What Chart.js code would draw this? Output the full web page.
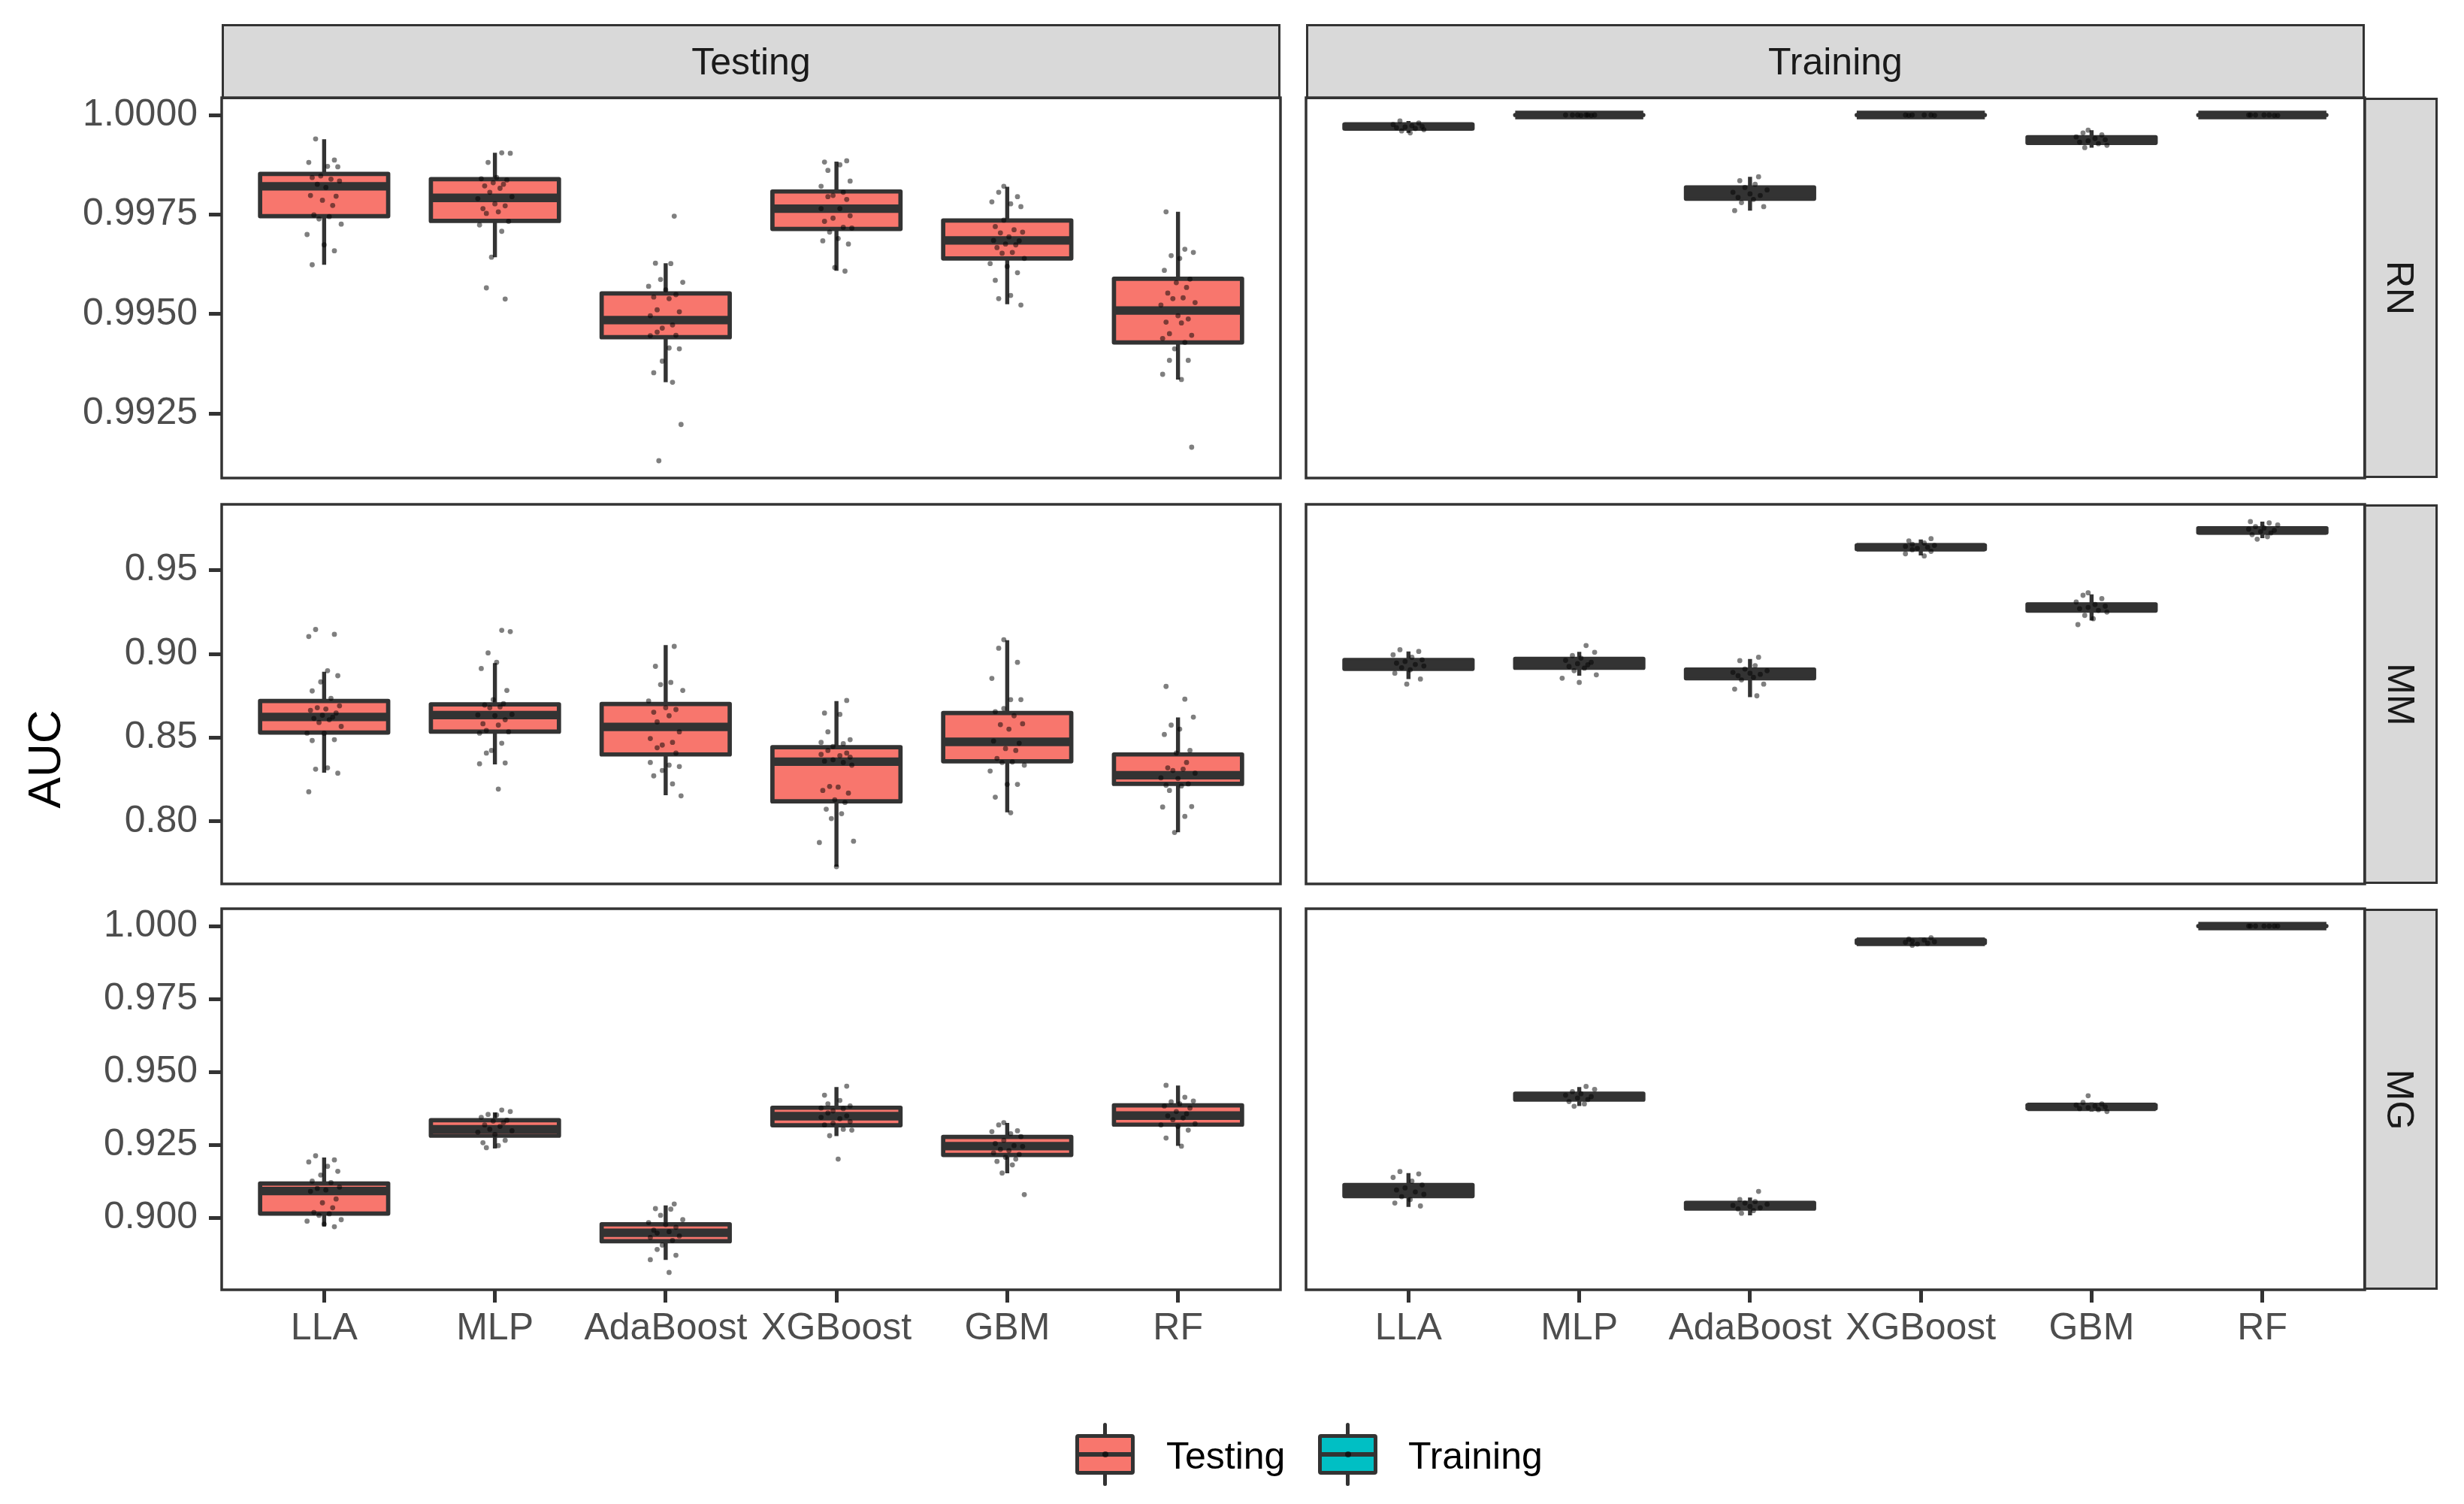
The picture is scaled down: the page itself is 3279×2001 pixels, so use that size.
<!DOCTYPE html>
<html>
<head>
<meta charset="utf-8">
<title>AUC by model</title>
<script src="https://cdn.jsdelivr.net/npm/chart.js@4.4.1/dist/chart.umd.min.js"></script>
<style>
  body { margin: 0; background: #fff; }
  #page { position: relative; width: 3279px; height: 2001px; overflow: hidden; font-family: 'Liberation Sans', Arial, sans-serif; }
  canvas { position: absolute; }
  .strip { position: absolute; box-sizing: border-box; background: #d9d9d9; border: 3.5px solid #333; color: #1a1a1a; font-size: 50px; display: flex; align-items: center; justify-content: center; }
  .strip .rot { transform: rotate(90deg); white-space: nowrap; }
  .ytitle { position: absolute; left: 58px; top: 1010px; font-size: 62px; color: #000; transform: translate(-50%, -50%) rotate(-90deg); white-space: nowrap; }
  .key { position: absolute; top: 1893px; width: 79px; height: 84px; }
  .key .wh { position: absolute; left: 36.6px; top: 0; width: 5.7px; height: 84px; background: #333; border-radius: 3px; }
  .key .bx { position: absolute; left: 0; top: 15px; width: 79px; height: 54px; box-sizing: border-box; border: 5.7px solid #333; border-radius: 4px; }
  .key .md { position: absolute; left: 0; top: 39.2px; width: 79px; height: 5.7px; background: #333; }
  .key .dot { position: absolute; left: 35.5px; top: 38px; width: 8px; height: 8px; border-radius: 50%; background: rgba(0,0,0,0.6); }
  .ltext { position: absolute; top: 1912px; font-size: 50px; line-height: 50px; color: #000; white-space: nowrap; }
</style>
</head>
<body>
<div id="page">
  <div class="strip" style="left:295px; top:32px; width:1409px; height:100px;">Testing</div>
  <div class="strip" style="left:1738px; top:32px; width:1409px; height:100px;">Training</div>
  <div class="strip" style="left:3145px; top:130px; width:99px; height:506px;"><span class="rot">RN</span></div>
  <div class="strip" style="left:3145px; top:671px; width:99px; height:505px;"><span class="rot">MM</span></div>
  <div class="strip" style="left:3145px; top:1209px; width:99px; height:507px;"><span class="rot">MG</span></div>
  <div class="ytitle">AUC</div>

  <div class="key" style="left:1431px;"><div class="wh"></div><div class="bx" style="background:#F8766D;"></div><div class="md"></div><div class="dot"></div></div>
  <div class="ltext" style="left:1552px;">Testing</div>
  <div class="key" style="left:1754px;"><div class="wh"></div><div class="bx" style="background:#00BFC4;"></div><div class="md"></div><div class="dot"></div></div>
  <div class="ltext" style="left:1874px;">Training</div>
</div>
<script>
const categories = ['LLA', 'MLP', 'AdaBoost', 'XGBoost', 'GBM', 'RF'];

// tick labels of each facet row
const rnTicks = [0.9925, 0.9950, 0.9975, 1.0000];
const mmTicks = [0.80, 0.85, 0.90, 0.95];
const mgTicks = [0.900, 0.925, 0.950, 0.975, 1.000];

// box stats per model: [lower whisker, Q1, median, Q3, upper whisker]
const rnTestingBox = [
  [0.99624, 0.99746, 0.99821, 0.99852, 0.99939],
  [0.99643, 0.99734, 0.99792, 0.99839, 0.99905],
  [0.99329, 0.99442, 0.99485, 0.99552, 0.99628],
  [0.99609, 0.99714, 0.99765, 0.99808, 0.99883],
  [0.99525, 0.99640, 0.99685, 0.99735, 0.99820],
  [0.99336, 0.99429, 0.99509, 0.99589, 0.99757]
];
const rnTrainingBox = [
  [0.99955, 0.99966, 0.99971, 0.99976, 0.99985],
  [0.99998, 1.00000, 1.00000, 1.00000, 1.00000],
  [0.99760, 0.99790, 0.99804, 0.99818, 0.99845],
  [0.99998, 1.00000, 1.00000, 1.00000, 1.00000],
  [0.99918, 0.99930, 0.99937, 0.99944, 0.99962],
  [0.99998, 1.00000, 1.00000, 1.00000, 1.00000]
];
const mmTestingBox = [
  [0.8291, 0.8531, 0.8624, 0.8719, 0.8893],
  [0.8340, 0.8536, 0.8635, 0.8699, 0.8945],
  [0.8157, 0.8400, 0.8564, 0.8701, 0.9053],
  [0.7730, 0.8120, 0.8357, 0.8443, 0.8718],
  [0.8054, 0.8359, 0.8475, 0.8647, 0.9082],
  [0.7936, 0.8224, 0.8276, 0.8400, 0.8621]
];
const mmTrainingBox = [
  [0.8850, 0.8911, 0.8937, 0.8964, 0.9015],
  [0.8870, 0.8917, 0.8944, 0.8970, 0.9012],
  [0.8742, 0.8855, 0.8883, 0.8906, 0.8970],
  [0.9588, 0.9626, 0.9637, 0.9648, 0.9683],
  [0.9200, 0.9259, 0.9277, 0.9296, 0.9356],
  [0.9691, 0.9725, 0.9737, 0.9750, 0.9790]
];
const mgTestingBox = [
  [0.8970, 0.9014, 0.9091, 0.9117, 0.9206],
  [0.9237, 0.9281, 0.9303, 0.9334, 0.9361],
  [0.8855, 0.8919, 0.8948, 0.8977, 0.9042],
  [0.9280, 0.9317, 0.9348, 0.9377, 0.9448],
  [0.9152, 0.9215, 0.9245, 0.9277, 0.9325],
  [0.9246, 0.9319, 0.9350, 0.9385, 0.9453]
];
const mgTrainingBox = [
  [0.9037, 0.9074, 0.9093, 0.9112, 0.9153],
  [0.9383, 0.9405, 0.9415, 0.9425, 0.9448],
  [0.9008, 0.9031, 0.9041, 0.9051, 0.9069],
  [0.9934, 0.9942, 0.9946, 0.9951, 0.9960],
  [0.9364, 0.9375, 0.9380, 0.9386, 0.9395],
  [0.99995, 1.0000, 1.0000, 1.0000, 1.0000]
];

// individual runs (jittered points)
const rnTestingPts = [
  [0.99940, 0.99887, 0.99881, 0.99871, 0.99870, 0.99847, 0.99843, 0.99839, 0.99834, 0.99826, 0.99818, 0.99798, 0.99796, 0.99786, 0.99773, 0.99749, 0.99745, 0.99739, 0.99726, 0.99700, 0.99674, 0.99659, 0.99624],
  [0.99905, 0.99904, 0.99881, 0.99843, 0.99840, 0.99837, 0.99830, 0.99826, 0.99822, 0.99816, 0.99806, 0.99795, 0.99790, 0.99777, 0.99772, 0.99765, 0.99757, 0.99753, 0.99733, 0.99724, 0.99708, 0.99643, 0.99566, 0.99538],
  [0.99746, 0.99628, 0.99627, 0.99587, 0.99580, 0.99570, 0.99561, 0.99549, 0.99543, 0.99539, 0.99511, 0.99506, 0.99496, 0.99473, 0.99465, 0.99455, 0.99447, 0.99446, 0.99415, 0.99413, 0.99382, 0.99353, 0.99329, 0.99223, 0.99132],
  [0.99885, 0.99882, 0.99875, 0.99861, 0.99834, 0.99821, 0.99806, 0.99798, 0.99795, 0.99788, 0.99765, 0.99765, 0.99747, 0.99741, 0.99733, 0.99718, 0.99716, 0.99706, 0.99690, 0.99684, 0.99676, 0.99617, 0.99608],
  [0.99821, 0.99806, 0.99795, 0.99782, 0.99777, 0.99770, 0.99736, 0.99720, 0.99712, 0.99706, 0.99704, 0.99694, 0.99685, 0.99684, 0.99676, 0.99674, 0.99667, 0.99655, 0.99653, 0.99640, 0.99627, 0.99620, 0.99604, 0.99585, 0.99547, 0.99539, 0.99523],
  [0.99757, 0.99663, 0.99655, 0.99647, 0.99640, 0.99610, 0.99588, 0.99579, 0.99567, 0.99553, 0.99541, 0.99539, 0.99529, 0.99523, 0.99496, 0.99488, 0.99480, 0.99478, 0.99451, 0.99447, 0.99439, 0.99429, 0.99413, 0.99384, 0.99384, 0.99349, 0.99336, 0.99166]
];
const rnTrainingPts = [
  [0.99985, 0.99980, 0.99976, 0.99973, 0.99971, 0.99970, 0.99968, 0.99966, 0.99963, 0.99960, 0.99955],
  [1.0, 1.0, 1.0, 0.99999, 1.0, 0.99999, 1.0, 1.0],
  [0.99845, 0.99835, 0.99826, 0.99818, 0.99812, 0.99806, 0.99802, 0.99798, 0.99793, 0.99788, 0.99780, 0.99770, 0.99760],
  [1.0, 0.99999, 1.0, 1.0, 0.99999, 1.0],
  [0.99962, 0.99955, 0.99950, 0.99945, 0.99941, 0.99938, 0.99935, 0.99932, 0.99928, 0.99924, 0.99918],
  [1.0, 1.0, 0.99999, 1.0, 1.0, 1.0, 0.99999]
];
const mmTestingPts = [
  [0.9146, 0.9117, 0.9104, 0.8900, 0.8870, 0.8833, 0.8779, 0.8735, 0.8690, 0.8679, 0.8671, 0.8663, 0.8647, 0.8634, 0.8623, 0.8615, 0.8607, 0.8591, 0.8567, 0.8527, 0.8527, 0.8488, 0.8483, 0.8320, 0.8312, 0.8288, 0.8177],
  [0.9141, 0.9133, 0.9006, 0.8950, 0.8913, 0.8782, 0.8727, 0.8703, 0.8695, 0.8684, 0.8679, 0.8639, 0.8636, 0.8631, 0.8607, 0.8583, 0.8575, 0.8543, 0.8535, 0.8527, 0.8467, 0.8424, 0.8408, 0.8349, 0.8344, 0.8193],
  [0.9045, 0.8926, 0.8830, 0.8817, 0.8782, 0.8719, 0.8679, 0.8668, 0.8652, 0.8631, 0.8594, 0.8535, 0.8495, 0.8472, 0.8456, 0.8440, 0.8408, 0.8352, 0.8336, 0.8328, 0.8304, 0.8272, 0.8224, 0.8153],
  [0.8722, 0.8647, 0.8639, 0.8535, 0.8488, 0.8472, 0.8464, 0.8448, 0.8424, 0.8408, 0.8400, 0.8392, 0.8384, 0.8368, 0.8360, 0.8352, 0.8336, 0.8209, 0.8205, 0.8185, 0.8169, 0.8129, 0.8113, 0.8073, 0.8046, 0.8017, 0.7882, 0.7874, 0.7730],
  [0.9085, 0.9034, 0.8950, 0.8854, 0.8727, 0.8727, 0.8674, 0.8655, 0.8631, 0.8583, 0.8578, 0.8551, 0.8480, 0.8467, 0.8435, 0.8424, 0.8376, 0.8355, 0.8352, 0.8336, 0.8301, 0.8221, 0.8221, 0.8145, 0.8052],
  [0.8806, 0.8730, 0.8623, 0.8575, 0.8551, 0.8519, 0.8424, 0.8408, 0.8352, 0.8320, 0.8312, 0.8304, 0.8288, 0.8260, 0.8256, 0.8224, 0.8216, 0.8212, 0.8185, 0.8089, 0.8086, 0.8030, 0.7934]
];
const mmTrainingPts = [
  [0.9025, 0.9015, 0.8995, 0.8980, 0.8965, 0.8955, 0.8945, 0.8937, 0.8928, 0.8918, 0.8905, 0.8885, 0.8850, 0.8820],
  [0.9050, 0.9010, 0.8990, 0.8975, 0.8962, 0.8950, 0.8942, 0.8935, 0.8925, 0.8915, 0.8900, 0.8875, 0.8855, 0.8830],
  [0.8980, 0.8960, 0.8930, 0.8910, 0.8900, 0.8890, 0.8885, 0.8878, 0.8870, 0.8860, 0.8845, 0.8820, 0.8790, 0.8750],
  [0.9688, 0.9675, 0.9662, 0.9655, 0.9648, 0.9642, 0.9636, 0.9630, 0.9622, 0.9612, 0.9598, 0.9585],
  [0.9365, 0.9350, 0.9330, 0.9310, 0.9295, 0.9285, 0.9278, 0.9270, 0.9260, 0.9250, 0.9230, 0.9210, 0.9175],
  [0.9790, 0.9782, 0.9770, 0.9760, 0.9752, 0.9745, 0.9738, 0.9730, 0.9722, 0.9712, 0.9700, 0.9685]
];
const mgTestingPts = [
  [0.9212, 0.9198, 0.9191, 0.9176, 0.9159, 0.9146, 0.9125, 0.9120, 0.9105, 0.9100, 0.9095, 0.9090, 0.9064, 0.9051, 0.9034, 0.9018, 0.9013, 0.9008, 0.8993, 0.8988, 0.8978, 0.8969],
  [0.9369, 0.9364, 0.9354, 0.9352, 0.9344, 0.9334, 0.9331, 0.9326, 0.9318, 0.9313, 0.9303, 0.9298, 0.9293, 0.9285, 0.9265, 0.9257, 0.9247, 0.9240],
  [0.9047, 0.9031, 0.9029, 0.9008, 0.8993, 0.8983, 0.8976, 0.8967, 0.8957, 0.8952, 0.8947, 0.8937, 0.8932, 0.8922, 0.8906, 0.8891, 0.8871, 0.8856, 0.8812],
  [0.9451, 0.9420, 0.9402, 0.9390, 0.9383, 0.9376, 0.9374, 0.9366, 0.9359, 0.9349, 0.9344, 0.9339, 0.9329, 0.9324, 0.9318, 0.9303, 0.9300, 0.9281, 0.9201],
  [0.9326, 0.9318, 0.9298, 0.9295, 0.9288, 0.9278, 0.9265, 0.9254, 0.9247, 0.9244, 0.9234, 0.9230, 0.9222, 0.9217, 0.9207, 0.9201, 0.9193, 0.9181, 0.9153, 0.9079],
  [0.9454, 0.9413, 0.9400, 0.9397, 0.9390, 0.9383, 0.9376, 0.9364, 0.9356, 0.9349, 0.9342, 0.9336, 0.9322, 0.9318, 0.9313, 0.9300, 0.9273, 0.9245]
];
const mgTrainingPts = [
  [0.9158, 0.9150, 0.9138, 0.9125, 0.9112, 0.9102, 0.9095, 0.9088, 0.9080, 0.9072, 0.9062, 0.9050, 0.9040],
  [0.9450, 0.9440, 0.9432, 0.9425, 0.9420, 0.9415, 0.9410, 0.9405, 0.9398, 0.9390, 0.9382],
  [0.9090, 0.9062, 0.9055, 0.9050, 0.9046, 0.9042, 0.9038, 0.9034, 0.9030, 0.9024, 0.9015],
  [0.9960, 0.9955, 0.9952, 0.9949, 0.9946, 0.9944, 0.9941, 0.9938, 0.9934],
  [0.9418, 0.9395, 0.9390, 0.9386, 0.9383, 0.9380, 0.9377, 0.9374, 0.9370, 0.9364],
  [1.0, 1.0, 0.99998, 1.0, 1.0, 0.99999, 1.0]
];

// horizontal spread of the points around each box (category units)
const JITTER = [-0.05, 0.06, -0.09, 0.02, 0.08, -0.02, -0.07, 0.04, 0.09, -0.04, 0.01, -0.08, 0.07, -0.01, 0.05, -0.06, 0.03, -0.03, 0.10, -0.10, 0.00, 0.06, -0.07, 0.02, -0.05, 0.08, -0.09, 0.04, -0.02];

const FILLS = ['#F8766D', '#00BFC4'];
const BOX_WIDTH = 0.75;
const LINE = '#333333';

// panel geometry in page pixels
const panelX = [[295, 1704], [1738, 3147]];
const panelY = [[130, 636], [671, 1176], [1209, 1716]];
const PAD = 60, XAXIS_H = 110, YAXIS_W = 295;

Chart.defaults.font.family = "'Liberation Sans', Arial, sans-serif";

// draws whiskers, boxes and medians under the points, and the panel frame on top
const boxplotPlugin = {
  id: 'boxplot',
  beforeDatasetsDraw(chart, args, opts) {
    const ctx = chart.ctx, x = chart.scales.x, y = chart.scales.y, a = chart.chartArea;
    ctx.save();
    ctx.beginPath();
    ctx.rect(a.left, a.top, a.right - a.left, a.bottom - a.top);
    ctx.clip();
    ctx.strokeStyle = LINE;
    opts.stats.forEach(function(s, i) {
      const xc = x.getPixelForValue(i);
      const x0 = x.getPixelForValue(i - BOX_WIDTH / 2);
      const x1 = x.getPixelForValue(i + BOX_WIDTH / 2);
      const yLo = y.getPixelForValue(s[0]), yQ1 = y.getPixelForValue(s[1]);
      const yMed = y.getPixelForValue(s[2]), yQ3 = y.getPixelForValue(s[3]);
      const yHi = y.getPixelForValue(s[4]);

      ctx.lineCap = 'butt';
      ctx.lineWidth = 5.4;
      ctx.beginPath();
      ctx.moveTo(xc, yHi); ctx.lineTo(xc, yQ3);
      ctx.moveTo(xc, yQ1); ctx.lineTo(xc, yLo);
      ctx.stroke();

      ctx.fillStyle = opts.fill;
      ctx.fillRect(x0, yQ3, x1 - x0, yQ1 - yQ3);
      ctx.lineJoin = 'round';
      ctx.lineWidth = 5.7;
      ctx.strokeRect(x0, yQ3, x1 - x0, yQ1 - yQ3);

      ctx.lineWidth = 11.3;
      ctx.beginPath();
      ctx.moveTo(x0, yMed); ctx.lineTo(x1, yMed);
      ctx.stroke();
    });
    ctx.restore();
  },
  afterDraw(chart) {
    const ctx = chart.ctx, a = chart.chartArea;
    ctx.save();
    ctx.strokeStyle = LINE;
    ctx.lineWidth = 3.5;
    ctx.strokeRect(a.left, a.top, a.right - a.left, a.bottom - a.top);
    ctx.restore();
  }
};

const rows = [
  { box: [rnTestingBox, rnTrainingBox], pts: [rnTestingPts, rnTrainingPts], ticks: rnTicks, dec: 4 },
  { box: [mmTestingBox, mmTrainingBox], pts: [mmTestingPts, mmTrainingPts], ticks: mmTicks, dec: 2 },
  { box: [mgTestingBox, mgTrainingBox], pts: [mgTestingPts, mgTrainingPts], ticks: mgTicks, dec: 3 }
];

const page = document.getElementById('page');

rows.forEach(function(row, r) {
  // shared y range of the row: data range plus 5% on each side
  let all = [];
  row.box.forEach(b => b.forEach(s => all.push(...s)));
  row.pts.forEach(p => p.forEach(s => all.push(...s)));
  const lo = Math.min(...all), hi = Math.max(...all);
  const ex = (hi - lo) * 0.05;

  [0, 1].forEach(function(c) {
    const first = c === 0;
    const bottom = r === rows.length - 1;
    const left = first ? 0 : panelX[c][0] - PAD;
    const width = first ? panelX[c][1] + PAD : panelX[c][1] - panelX[c][0] + 2 * PAD;
    const top = panelY[r][0] - PAD;
    const height = PAD + panelY[r][1] - panelY[r][0] + (bottom ? XAXIS_H : PAD);

    const cv = document.createElement('canvas');
    cv.width = width; cv.height = height;
    cv.style.left = left + 'px'; cv.style.top = top + 'px';
    cv.style.width = width + 'px'; cv.style.height = height + 'px';
    page.appendChild(cv);

    const pointData = [];
    row.pts[c].forEach(function(vals, i) {
      vals.forEach(function(v, j) {
        pointData.push({ x: i + JITTER[(j + i * 7) % JITTER.length], y: v });
      });
    });

    new Chart(cv, {
      type: 'scatter',
      data: {
        datasets: [{
          data: pointData,
          pointRadius: 3.4,
          pointHoverRadius: 3.4,
          backgroundColor: 'rgba(0,0,0,0.5)',
          borderWidth: 0
        }]
      },
      options: {
        responsive: false,
        animation: false,
        events: [],
        layout: { padding: { left: first ? 0 : PAD, right: PAD, top: PAD, bottom: bottom ? 0 : PAD } },
        plugins: {
          legend: { display: false },
          tooltip: { enabled: false },
          boxplot: { stats: row.box[c], fill: FILLS[c] }
        },
        scales: {
          x: {
            type: 'linear',
            min: -0.6,
            max: categories.length - 0.4,
            display: bottom,
            afterBuildTicks: s => { s.ticks = categories.map((_, i) => ({ value: i })); },
            afterFit: s => { if (bottom) s.height = XAXIS_H; },
            ticks: {
              callback: v => categories[v],
              autoSkip: false, maxRotation: 0, minRotation: 0,
              padding: 5, color: '#4d4d4d', font: { size: 50 }
            },
            grid: { drawOnChartArea: false, tickLength: 17, tickWidth: 5, tickColor: LINE },
            border: { display: false }
          },
          y: {
            type: 'linear',
            min: lo - ex,
            max: hi + ex,
            display: first,
            afterBuildTicks: s => { s.ticks = row.ticks.map(v => ({ value: v })); },
            afterFit: s => { if (first) s.width = YAXIS_W; },
            ticks: {
              callback: v => v.toFixed(row.dec),
              padding: 15, color: '#4d4d4d', font: { size: 50 }
            },
            grid: { drawOnChartArea: false, tickLength: 17, tickWidth: 5, tickColor: LINE },
            border: { display: false }
          }
        }
      },
      plugins: [boxplotPlugin]
    });
  });
});
</script>
</body>
</html>
